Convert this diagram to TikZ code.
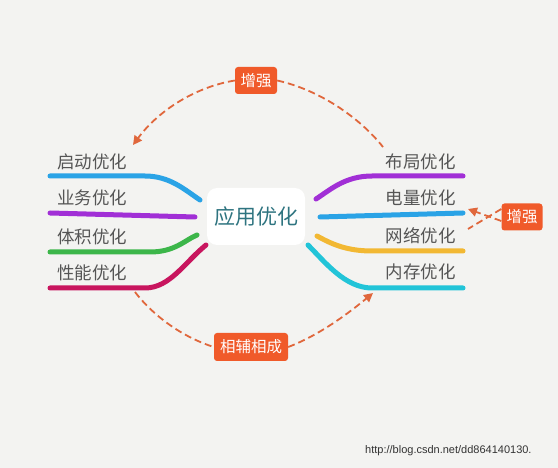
\documentclass[tikz,border=0pt]{standalone}
\usepackage{fontspec}
\setmainfont{Liberation Sans}
\newfontfamily\cjk{Noto Sans CJK SC}
\usetikzlibrary{arrows.meta}
\definecolor{bg}{HTML}{F3F3F1}
\definecolor{lbl}{HTML}{555555}
\definecolor{ctr}{HTML}{2E7480}
\definecolor{tagc}{HTML}{F05A2A}
\definecolor{dash}{HTML}{E0673C}
\definecolor{cblue}{HTML}{2AA3E6}
\definecolor{cpurple}{HTML}{A12FD6}
\definecolor{cgreen}{HTML}{3CB64A}
\definecolor{ccrimson}{HTML}{C8155E}
\definecolor{cyellow}{HTML}{F2B833}
\definecolor{ccyan}{HTML}{22C4D8}
\begin{document}
\begin{tikzpicture}[x=1pt,y=-1pt,
  branch/.style={line width=5pt,line cap=round},
  lbltext/.style={font=\cjk\fontsize{17.5}{19}\selectfont,text=lbl,inner sep=0pt},
  tag/.style={fill=tagc,rounded corners=3pt,text=white,font=\cjk\fontsize{15.5}{17}\selectfont,inner sep=0pt,minimum height=27pt},
  dashline/.style={draw=dash,line width=1.8pt,dash pattern=on 7pt off 4pt},
  arr/.style={-{Triangle[length=9pt,width=9pt]}}]
\fill[bg] (0,0) rectangle (558,468);
\useasboundingbox (0,0) rectangle (558,468);
% center
\node[fill=white,rounded corners=10pt,minimum width=98pt,minimum height=57pt,inner sep=0pt,
  font=\cjk\fontsize{21}{24}\selectfont,text=ctr] (c) at (256,216.5) {应用优化};
% left branches
\coordinate (l1a) at (50,176); \coordinate (l1b) at (200,200);
\coordinate (l2a) at (50,213); \coordinate (l2b) at (195,217);
\coordinate (l3a) at (50,252); \coordinate (l3b) at (197,235);
\coordinate (l4a) at (50,288); \coordinate (l4b) at (206,245);
\draw[branch,cblue] (l1a) -- (145,176) .. controls (170,176) and (185,190) .. (l1b);
\draw[branch,cpurple] (l2a) -- (l2b);
\draw[branch,cgreen] (l3a) -- (150,252) .. controls (175,252) and (185,240) .. (l3b);
\draw[branch,ccrimson] (l4a) -- (145,288) .. controls (170,288) and (185,262) .. (l4b);
\node[lbltext,anchor=west] (t1) at (57,162) {启动优化};
\node[lbltext,anchor=west] (t2) at (57,198) {业务优化};
\node[lbltext,anchor=west] (t3) at (57,237) {体积优化};
\node[lbltext,anchor=west] (t4) at (57,273) {性能优化};
% right branches
\coordinate (r1a) at (463,176); \coordinate (r1b) at (316,199);
\coordinate (r2a) at (463,213); \coordinate (r2b) at (320,217);
\coordinate (r3a) at (463,251); \coordinate (r3b) at (317,236);
\coordinate (r4a) at (463,288); \coordinate (r4b) at (308,245);
\draw[branch,cpurple] (r1a) -- (372,176) .. controls (345,176) and (330,190) .. (r1b);
\draw[branch,cblue] (r2a) -- (r2b);
\draw[branch,cyellow] (r3a) -- (372,251) .. controls (345,251) and (330,243) .. (r3b);
\draw[branch,ccyan] (r4a) -- (372,288) .. controls (345,288) and (325,262) .. (r4b);
\node[lbltext,anchor=east] (s1) at (456,162) {布局优化};
\node[lbltext,anchor=east] (s2) at (456,198) {电量优化};
\node[lbltext,anchor=east] (s3) at (456,236) {网络优化};
\node[lbltext,anchor=east] (s4) at (456,272) {内存优化};
% tags
\node[tag,minimum width=42pt] (g1) at (256,80.5) {增强};
\node[tag,minimum width=41pt] (g2) at (522,217) {增强};
\node[tag,minimum width=74pt,minimum height=28pt] (g3) at (251,347) {相辅相成};
% dashed arcs
\coordinate (p1) at (133,145);
\coordinate (p2) at (383,147);
\draw[dashline,arr] (g1.west) .. controls (190,88) and (155,115) .. (p1);
\draw[dashline] (g1.east) .. controls (320,90) and (360,118) .. (p2);
\coordinate (q1) at (468,209);
\coordinate (q2) at (468,229);
\draw[dashline,arr] ([yshift=-4pt]g2.west) -- (q1);
\draw[dashline] ([yshift=8pt]g2.west) -- (q2);
\coordinate (u1) at (135,292);
\coordinate (u2) at (373,293);
\draw[dashline] (u1) .. controls (155,318) and (185,338) .. (g3.west);
\draw[dashline,arr] (g3.east) .. controls (320,335) and (350,312) .. (u2);
% watermark
\node[font=\fontsize{11}{13}\selectfont,text=black!80,anchor=west,inner sep=0pt] (w) at (365,451) {http://blog.csdn.net/dd864140130.};
\end{tikzpicture}
\end{document}
